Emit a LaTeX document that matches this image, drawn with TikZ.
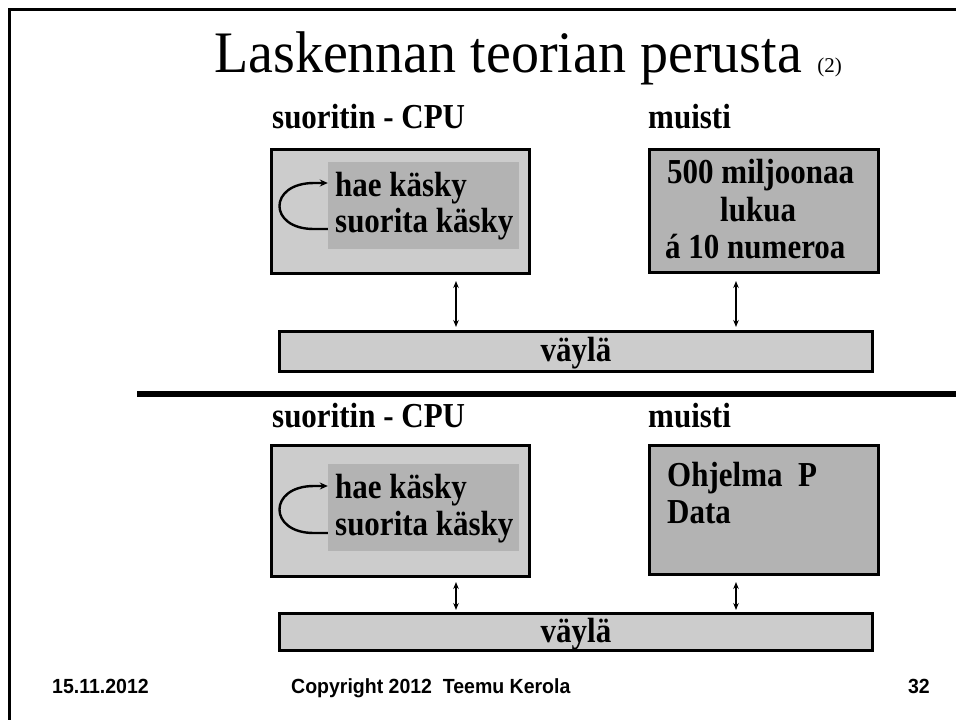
\documentclass[tikz,border=0pt]{standalone}
\usepackage{fontspec}
\setmainfont{Liberation Serif}
\newfontfamily\footfont{Liberation Sans}
\usetikzlibrary{arrows.meta}
\definecolor{lightbox}{RGB}{204,204,204}
\definecolor{darkbox}{RGB}{179,179,179}
% slightly taller lettering for the slide text
\newcommand{\tallTxt}[1]{\scalebox{1}[1.13]{#1}}
\newcommand{\footTxt}[1]{\scalebox{1}[1.05]{#1}}

\begin{document}
\begin{tikzpicture}[x=1pt,y=-1pt,
  frame/.style={line width=3pt},
  unit/.style={draw=black, line width=3pt, fill=lightbox, inner sep=0pt},
  memunit/.style={unit, fill=darkbox},
  cmdarea/.style={fill=darkbox, draw=none, inner sep=0pt},
  lbl/.style={font=\fontsize{31}{35}\selectfont\bfseries, inner sep=0pt, anchor=base west},
  buslbl/.style={font=\fontsize{31}{35}\selectfont\bfseries, inner sep=0pt, anchor=base},
  foot/.style={font=\footfont\fontsize{19.5}{22}\selectfont\bfseries, inner sep=0pt},
  dbl/.style={line width=1.4pt, {Stealth[length=7pt,width=5.5pt]}-{Stealth[length=7pt,width=5.5pt]}},
  loop/.style={line width=2.4pt, -{Stealth[length=8pt,width=7pt]}},
  sep/.style={line width=6pt}]
\useasboundingbox (0,0) rectangle (956,720);

% page frame
\draw[frame] (9.5,720) -- (9.5,9.5) -- (956,9.5);

% title
\node[inner sep=0pt, anchor=base west, font=\fontsize{56}{60}\selectfont] (title) at (214,72) {\scalebox{1}[1.05]{Laskennan teorian perusta}};
\node[inner sep=0pt, anchor=base west, font=\fontsize{21}{22}\selectfont] (titlenum) at ([xshift=15pt]title.base east) {(2)};

% ---------- upper machine ----------
\node[lbl] (cpuhead1) at (272,128) {\tallTxt{suoritin - CPU}};
\node[lbl] (memhead1) at (648,128) {\tallTxt{muisti}};

\node[unit, minimum width=258pt, minimum height=124pt] (cpu1) at (400.5,211.5) {};
\node[cmdarea, minimum width=191pt, minimum height=87pt] (cmd1) at (423.5,205.5) {};
\node[lbl] (fetch1) at (335,196) {\tallTxt{hae käsky}};
\node[lbl] (exec1) at (335,232) {\tallTxt{suorita käsky}};
\coordinate (loop1s) at (cmd1.west |- 0,229);
\coordinate (loop1e) at (cmd1.west |- 0,183);
\draw[loop] (loop1s) -- ++(-14,0) .. controls (268,229) and (268,183) .. (314,183) -- (loop1e);

\node[memunit, minimum width=229pt, minimum height=123pt] (mem1) at (763.5,210.5) {};
\node[lbl] (memtxtA) at (667,183) {\tallTxt{500 miljoonaa}};
\node[lbl] (memtxtB) at (720,221) {\tallTxt{lukua}};
\node[lbl] (memtxtC) at (665,258) {\tallTxt{á 10 numeroa}};

\node[unit, minimum width=593pt, minimum height=40pt] (bus1) at (576,351.5) {};
\node[buslbl] (bus1txt) at ([yshift=-10pt]bus1.center) {\tallTxt{väylä}};

\coordinate (a1top) at (456,281);
\coordinate (a1bot) at (456,327);
\coordinate (a2top) at (736,281);
\coordinate (a2bot) at (736,327);
\draw[dbl] (a1top) -- (a1bot);
\draw[dbl] (a2top) -- (a2bot);

% separator between the two machines
\coordinate (sepL) at (137,393.5);
\coordinate (sepR) at (956,393.5);
\draw[sep] (sepL) -- (sepR);

% ---------- lower machine ----------
\node[lbl] (cpuhead2) at (272,427) {\tallTxt{suoritin - CPU}};
\node[lbl] (memhead2) at (648,427) {\tallTxt{muisti}};

\node[unit, minimum width=258pt, minimum height=131pt] (cpu2) at (400.5,511) {};
\node[cmdarea, minimum width=191pt, minimum height=87pt] (cmd2) at (423.5,507.5) {};
\node[lbl] (fetch2) at (335,498) {\tallTxt{hae käsky}};
\node[lbl] (exec2) at (335,535) {\tallTxt{suorita käsky}};
\coordinate (loop2s) at (cmd2.west |- 0,533);
\coordinate (loop2e) at (cmd2.west |- 0,486);
\draw[loop] (loop2s) -- ++(-14,0) .. controls (268,533) and (268,486) .. (314,486) -- (loop2e);

\node[memunit, minimum width=229pt, minimum height=129pt] (mem2) at (763.5,510) {};
\node[lbl] (prog) at (667,486) {\tallTxt{Ohjelma\ \ P}};
\node[lbl] (data) at (667,523) {\tallTxt{Data}};

\node[unit, minimum width=593pt, minimum height=37pt] (bus2) at (576,632) {};
\node[buslbl] (bus2txt) at ([yshift=-10pt]bus2.center) {\tallTxt{väylä}};

\coordinate (b1top) at (456,582);
\coordinate (b1bot) at (456,610);
\coordinate (b2top) at (736,582);
\coordinate (b2bot) at (736,610);
\draw[dbl] (b1top) -- (b1bot);
\draw[dbl] (b2top) -- (b2bot);

% footer
\node[foot, anchor=base west] (date) at (52,693) {\footTxt{15.11.2012}};
\node[foot, anchor=base west] (copy) at (291,693) {\footTxt{Copyright 2012\ \ Teemu Kerola}};
\node[foot, anchor=base east] (page) at (930,693) {\footTxt{32}};
\end{tikzpicture}
\end{document}
